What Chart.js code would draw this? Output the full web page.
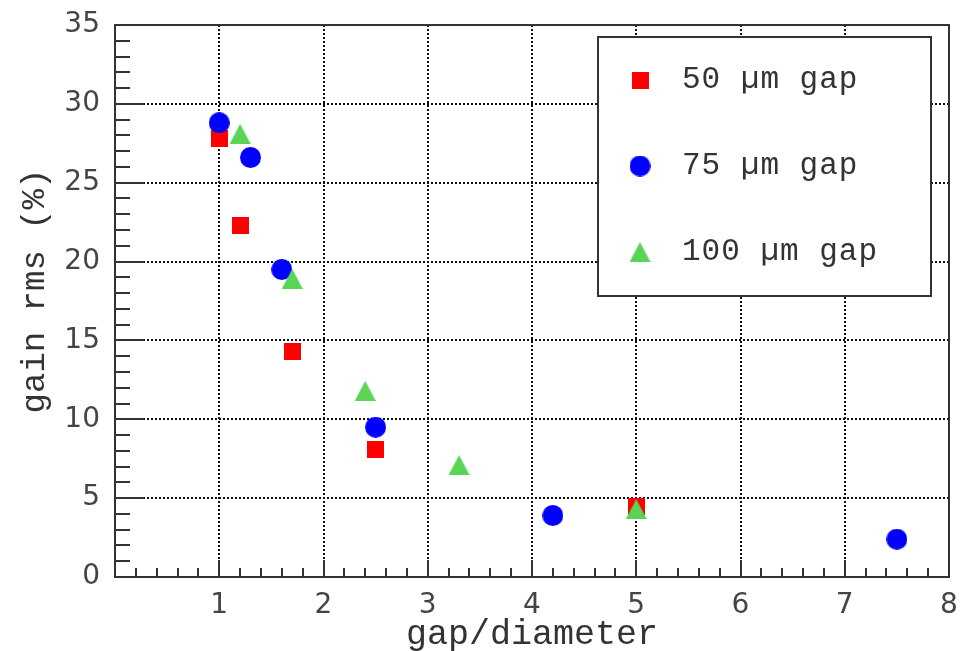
<!DOCTYPE html>
<html>
<head>
<meta charset="utf-8">
<script src="https://cdn.jsdelivr.net/npm/chart.js@4.4.1/dist/chart.umd.min.js"></script>
<style>
  html, body { margin: 0; padding: 0; background: #ffffff; }
  canvas { display: block; }
</style>
</head>
<body>
<canvas id="chart" width="972" height="651"></canvas>
<script>
// Gain rms versus gap/diameter ratio, for three gap widths
const gapRatio50  = [1.0, 1.2, 1.7, 2.5, 5.0];
const gainRms50   = [27.8, 22.3, 14.3, 8.1, 4.5];

const gapRatio75  = [1.0, 1.3, 1.6, 2.5, 4.2, 7.5];
const gainRms75   = [28.8, 26.6, 19.5, 9.5, 3.9, 2.4];

const gapRatio100 = [1.2, 1.7, 2.4, 3.3, 5.0];
const gainRms100  = [28.1, 18.9, 11.8, 7.1, 4.3];

const seriesNames = ['50 \u00b5m gap', '75 \u00b5m gap', '100 \u00b5m gap'];
const xAxisTitle = 'gap/diameter';
const yAxisTitle = 'gain rms (%)';
const xRange = [0, 8];
const yRange = [0, 35];

const RED = '#ff0000', BLUE = '#0000ff', GREEN = '#59d454';
const INK = '#333333';
const MONO = '"Liberation Mono", "Courier New", monospace';

// Marker glyphs rendered once into small canvases
function marker(kind, color) {
  const c = document.createElement('canvas');
  const g = c.getContext('2d');
  if (kind === 'square') {
    c.width = 17; c.height = 17;
    g.fillStyle = color;
    g.fillRect(0, 0, 17, 17);
  } else if (kind === 'circle') {
    c.width = 21; c.height = 21;
    g.fillStyle = color;
    g.beginPath(); g.arc(10.5, 10.5, 10.5, 0, Math.PI * 2); g.fill();
  } else {
    c.width = 21; c.height = 20;
    g.fillStyle = color;
    g.beginPath(); g.moveTo(10.5, 0); g.lineTo(21, 20); g.lineTo(0, 20); g.closePath(); g.fill();
  }
  return c;
}
const squareMark = marker('square', RED);
const circleMark = marker('circle', BLUE);
const triangleMark = marker('triangle', GREEN);

const pairs = (xs, ys) => xs.map((x, i) => ({ x, y: ys[i] }));

// Closed frame with inward major/minor ticks on the left and bottom
const framePlugin = {
  id: 'frame',
  beforeDatasetsDraw(chart) {
    const { ctx, chartArea: a, scales } = chart;
    ctx.save();
    ctx.strokeStyle = INK;
    ctx.lineWidth = 2;
    ctx.beginPath();
    for (let i = 0; i <= 40; i++) {
      const v = i / 5;
      const px = Math.round(scales.x.getPixelForValue(v));
      const len = (i % 5 === 0) ? 17 : 9;
      ctx.moveTo(px, a.bottom); ctx.lineTo(px, a.bottom - len);
    }
    for (let v = 0; v <= 35; v++) {
      const py = Math.round(scales.y.getPixelForValue(v));
      const len = (v % 5 === 0) ? 29 : 15;
      ctx.moveTo(a.left, py); ctx.lineTo(a.left + len, py);
    }
    ctx.stroke();
    ctx.strokeRect(a.left, a.top, a.right - a.left, a.bottom - a.top);
    ctx.restore();
  }
};

// Boxed legend in the upper right of the plot, plus the axis titles
const legendPlugin = {
  id: 'boxLegend',
  afterDatasetsDraw(chart) {
    const { ctx } = chart;
    ctx.save();
    const bx = 598, by = 37, bw = 333, bh = 259;
    ctx.fillStyle = '#ffffff';
    ctx.fillRect(bx, by, bw, bh);
    ctx.strokeStyle = INK;
    ctx.lineWidth = 2;
    ctx.strokeRect(bx, by, bw, bh);

    const marks = [squareMark, circleMark, triangleMark];
    const rows = [80, 166, 252];
    ctx.font = '31px ' + MONO;
    ctx.fillStyle = INK;
    ctx.textBaseline = 'middle';
    ctx.textAlign = 'left';
    if ('letterSpacing' in ctx) ctx.letterSpacing = '1px';
    rows.forEach((ry, i) => {
      const m = marks[i];
      ctx.drawImage(m, 640 - m.width / 2, ry - m.height / 2);
      ctx.fillText(seriesNames[i], 682, ry);
    });
    ctx.restore();
  },
  afterDraw(chart) {
    const { ctx, chartArea: a } = chart;
    ctx.save();
    ctx.fillStyle = INK;
    ctx.textAlign = 'center';
    ctx.textBaseline = 'alphabetic';
    ctx.font = '35px ' + MONO;
    ctx.fillText(xAxisTitle, (a.left + a.right) / 2, 644);
    ctx.translate(44, 291);
    ctx.rotate(-Math.PI / 2);
    ctx.font = '34px ' + MONO;
    ctx.fillText(yAxisTitle, 0, 0);
    ctx.restore();
  }
};

const gridColor = (lo, hi) => (c) =>
  (c.tick && (c.tick.value === lo || c.tick.value === hi)) ? 'rgba(0,0,0,0)' : '#111111';

new Chart(document.getElementById('chart'), {
  type: 'scatter',
  data: {
    datasets: [
      { label: seriesNames[0], data: pairs(gapRatio50, gainRms50),
        pointStyle: squareMark, pointRadius: 9, order: 2 },
      { label: seriesNames[1], data: pairs(gapRatio75, gainRms75),
        pointStyle: circleMark, pointRadius: 10, order: 1 },
      { label: seriesNames[2], data: pairs(gapRatio100, gainRms100),
        pointStyle: triangleMark, pointRadius: 10, order: 0 }
    ]
  },
  options: {
    responsive: false,
    animation: false,
    devicePixelRatio: 1,
    layout: { padding: { top: 25, right: 23, left: 0, bottom: 0 } },
    plugins: { legend: { display: false }, tooltip: { enabled: false } },
    scales: {
      x: {
        type: 'linear', min: xRange[0], max: xRange[1],
        afterFit: s => { s.height = 74; s.paddingLeft = 0; s.paddingRight = 0; },
        ticks: {
          stepSize: 1, padding: 12, color: '#444',
          font: { family: '"DejaVu Sans"', size: 28 },
          callback: v => (v === 0 ? '' : String(v))
        },
        grid: { color: gridColor(xRange[0], xRange[1]), lineWidth: 2, drawTicks: false },
        border: { display: false, dash: [2, 2] }
      },
      y: {
        type: 'linear', min: yRange[0], max: yRange[1],
        afterFit: s => { s.width = 115; s.paddingTop = 0; s.paddingBottom = 0; },
        ticks: {
          stepSize: 5, padding: 15, color: '#444',
          font: { family: '"DejaVu Sans"', size: 28 }
        },
        grid: { color: gridColor(yRange[0], yRange[1]), lineWidth: 2, drawTicks: false },
        border: { display: false, dash: [2, 2] }
      }
    }
  },
  plugins: [framePlugin, legendPlugin]
});
</script>
</body>
</html>
